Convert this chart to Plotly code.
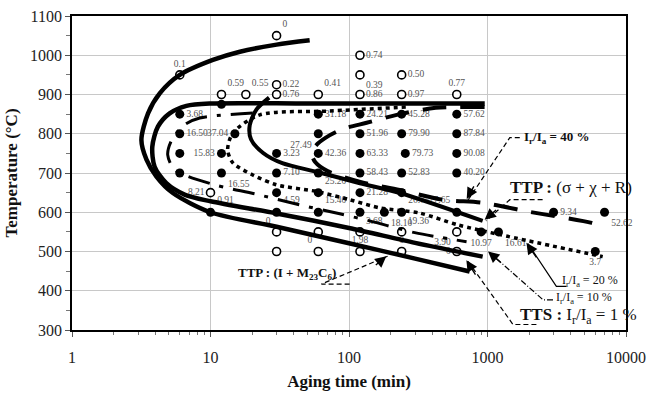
import math
import plotly.graph_objects as go

# ---------------- data ----------------
# open circles with a value label: aging time (min), temperature (degC), label
open_t = [30, 6, 12, 18, 30, 30, 60, 120, 120, 240, 120, 240, 600, 10,
          30, 60, 120, 120, 240, 240, 600, 600]
open_T = [1050, 950, 900, 900, 925, 900, 900, 1000, 950, 950, 900, 900, 900, 650,
          550, 500, 550, 500, 550, 500, 550, 500]
open_lbl = ["0", "0.1", "0.59", "0.55", "0.22", "0.76", "0.41", "0.74", "0.39", "0.50",
            "0.86", "0.97", "0.77", "8.21",
            "0", "0", "3.68", "1.98", "19.36", "0", "3.90", "0"]
# open circles without a label
open_t_nl = [30, 60]
open_T_nl = [500, 550]

# filled circles with a value label
fill_t = [6, 6, 12, 12, 15, 30, 30, 30, 10,
          60, 60, 60, 60, 60,
          120, 120, 120, 120, 120, 180,
          240, 240, 255, 240, 240,
          600, 600, 600, 600, 600,
          900, 1200, 3000, 7000, 6000]
fill_T = [850, 800, 750, 700, 800, 750, 700, 600, 600,
          850, 800, 750, 650, 600,
          850, 800, 750, 700, 650, 600,
          850, 800, 750, 700, 600,
          850, 800, 750, 700, 600,
          550, 550, 600, 600, 500]
fill_lbl = ["3.68", "16.50", "15.83", "16.55", "37.04", "3.23", "7.10", "4.59", "0.91",
            "31.18", "27.49", "42.36", "25.20", "15.40",
            "24.21", "51.96", "63.33", "58.43", "21.28", "18.10",
            "45.28", "79.90", "79.73", "52.83", "26.75",
            "57.62", "87.84", "90.08", "40.20", "27.65",
            "10.97", "16.61", "9.34", "52.62", "3.7"]
# filled circles without a label
fill_t_nl = [6, 6, 12, 30, 60, 120, 240]
fill_T_nl = [750, 700, 875, 650, 700, 600, 650]

# boundary curves (aging time, temperature)
c_outer_t = [52, 30, 16.3, 10.4, 6, 4.3, 3.54, 3.17, 3.45, 4.07, 5.35, 10, 30, 100, 300, 743]
c_outer_T = [1038, 1027, 1009, 988, 950, 903, 852, 784, 734, 691, 649, 600, 563, 521, 482, 449]

c_second_t = [955, 300, 50, 10, 6.7, 5.07, 4.17, 3.8, 3.95, 4.8, 6.5, 10, 30, 100, 300, 923]
c_second_T = [877, 877, 877, 877, 871, 852, 818, 767, 716, 674, 645, 628, 597, 560, 522, 487]

c_sigma_t = [26.5, 21.5, 19.2, 19.6, 24, 33, 60, 120, 233, 923]
c_sigma_T = [892, 862, 822, 786, 751, 725, 702, 674, 649, 578]

c_20_t = [257, 72.6, 22.7, 14.5, 13.3, 14.5, 20.2, 29.9, 58.2, 101, 167, 324, 609, 1224, 6790]
c_20_T = [868, 858, 848, 802, 759, 726, 695, 670, 653, 632, 611, 598, 568, 543, 487]

c_10_t = [20.2, 8.36, 6.5, 5.25, 4.91, 5.52, 10.7, 20.8, 44, 85.7, 141, 298, 706]
c_10_T = [853, 840, 823, 784, 746, 708, 670, 647, 619, 596, 578, 548, 525]

c_40_t = [953, 423, 221, 134, 90, 68, 57, 54, 57, 70, 119, 232, 475, 923, 2017, 5650, 6790]
c_40_T = [868, 866, 848, 828, 812, 790, 768, 748, 728, 705, 678, 657, 632, 624, 601, 573, 563]

x_ticks = [1, 10, 100, 1000, 10000]
x_ticklabels = ["1", "10", "100", "1000", "10000"]

SERIF = "Liberation Serif, Times New Roman, serif"

fig = go.Figure()

open_pos = ["top right", "top center", "top right", "top right", "middle right", "middle right",
            "top right", "middle right", "bottom right", "middle right", "middle right",
            "middle right", "top center", "middle left",
            "top left", "top left", "top right", "top center",
            "top right", "top center", "bottom left", "middle left"]
fill_pos = ["middle right", "middle right", "middle left", "bottom right", "middle left",
            "middle right", "middle right", "top right", "top right",
            "middle right", "bottom left", "middle right", "top right", "top right",
            "middle right", "middle right", "middle right", "middle right", "middle right",
            "bottom right",
            "middle right", "middle right", "middle right", "middle right", "top right",
            "middle right", "middle right", "middle right", "middle right", "top left",
            "bottom center", "bottom right", "middle right", "bottom right", "bottom center"]

lbl_font = dict(family=SERIF, size=9.5, color="#555555")

fig.add_trace(go.Scatter(
    x=fill_t, y=fill_T, mode="markers+text", text=fill_lbl, textposition=fill_pos,
    textfont=lbl_font, marker=dict(size=9, color="black"), showlegend=False, cliponaxis=False))
fig.add_trace(go.Scatter(
    x=fill_t_nl, y=fill_T_nl, mode="markers", marker=dict(size=9, color="black"),
    showlegend=False))
open_marker = dict(size=8, color="white", line=dict(color="black", width=1.6))
fig.add_trace(go.Scatter(
    x=open_t, y=open_T, mode="markers+text", text=open_lbl, textposition=open_pos,
    textfont=lbl_font, marker=open_marker, showlegend=False, cliponaxis=False))
fig.add_trace(go.Scatter(
    x=open_t_nl, y=open_T_nl, mode="markers", marker=open_marker, showlegend=False))


def curve(t, T, width, dash):
    fig.add_trace(go.Scatter(x=t, y=T, mode="lines",
                             line=dict(color="black", width=width, dash=dash, shape="spline",
                                       smoothing=0.8),
                             showlegend=False, hoverinfo="skip"))


curve(c_outer_t, c_outer_T, 4.5, "solid")
curve(c_second_t, c_second_T, 4.5, "solid")
curve(c_sigma_t, c_sigma_T, 4.0, "solid")
curve(c_20_t, c_20_T, 3.5, "4px,4px")
curve(c_10_t, c_10_T, 3.0, "22px,10px,4px,10px")
curve(c_40_t, c_40_T, 4.0, "24px,14px")


# leader lines for callouts
def leader(t, T, dash, width=1.2):
    fig.add_trace(go.Scatter(x=t, y=T, mode="lines",
                             line=dict(color="black", width=width, dash=dash),
                             showlegend=False, hoverinfo="skip"))


leader([1710, 1449, 720], [790, 790, 630], "5px,3px")
leader([2500, 1450, 975], [632, 632, 578], "5px,3px")
leader([3715, 3142, 1960], [411, 411, 520], "solid")
leader([2972, 2518, 1030], [377, 377, 498], "6px,2px,1px,2px")
leader([2255, 1528, 720], [314, 314, 476], "5px,3px")
leader([101, 63.2, 190], [417, 417, 488], "5px,3px")


def arrowhead(x, y, ax_px, ay_px):
    fig.add_annotation(x=math.log10(x), y=y, ax=ax_px, ay=ay_px, text="", showarrow=True,
                       arrowhead=2, arrowsize=1.6, arrowwidth=1.4, arrowcolor="black",
                       xref="x", yref="y")


arrowhead(708, 634, 8, -14)
arrowhead(953, 581, 13, -11)
arrowhead(1910, 522, 11, 16)
arrowhead(1009, 500, 14, 12)
arrowhead(704, 478, 10, 16)
arrowhead(186, 488, -12, 10)


def note(x, y, text, size, anchor="left"):
    fig.add_annotation(x=math.log10(x), y=y, text=text, showarrow=False, xanchor=anchor,
                       yanchor="middle", font=dict(family=SERIF, size=size, color="#111111"))


note(1762, 790, "<b>I<sub>r</sub>/I<sub>a</sub> = 40 %</b>", 13)
note(1400, 662, "<b>TTP :</b> (σ + χ + R)", 17)
note(3320, 424, "I<sub>r</sub>/I<sub>a</sub> = 20 %", 12)
note(3000, 382, "I<sub>r</sub>/I<sub>a</sub> = 10 %", 12)
note(1650, 335, "<b>TTS :</b> I<sub>r</sub>/I<sub>a</sub> = 1 %", 17)
note(15.4, 445, "<b>TTP : (I + M<sub>23</sub>C<sub>6</sub>)</b>", 13)

fig.update_layout(
    width=647, height=404,
    margin=dict(l=72, r=21, t=16, b=74),
    paper_bgcolor="white", plot_bgcolor="white",
    font=dict(family=SERIF, color="#111111"),
    showlegend=False,
)
fig.update_xaxes(
    type="log", range=[0, 4], tickvals=x_ticks, ticktext=x_ticklabels, automargin=False,
    tickfont=dict(family=SERIF, size=16, color="#222222"),
    showgrid=True, gridcolor="#c8c8c8", gridwidth=1,
    showline=True, linecolor="black", linewidth=1.8, mirror=True,
    ticks="outside", ticklen=5, tickcolor="#555555", ticklabelstandoff=7,
    minor=dict(ticks="outside", ticklen=3, tickcolor="#777777", dtick="D1", showgrid=False),
    zeroline=False,
    title=dict(text="<b>Aging time (min)</b>", font=dict(family=SERIF, size=17, color="#111111"),
               standoff=10),
)
fig.update_yaxes(
    range=[300, 1100], dtick=100, automargin=False,
    tickfont=dict(family=SERIF, size=16, color="#222222"),
    showgrid=True, gridcolor="#c8c8c8", gridwidth=1,
    showline=True, linecolor="black", linewidth=1.8, mirror=True,
    ticks="outside", ticklen=5, tickcolor="#555555",
    minor=dict(ticks="outside", ticklen=4, dtick=50, tickcolor="#777777", showgrid=False),
    zeroline=False,
    title=dict(text="<b>Temperature (°C)</b>", font=dict(family=SERIF, size=17, color="#111111"),
               standoff=8),
)

fig.write_html("out.html")
